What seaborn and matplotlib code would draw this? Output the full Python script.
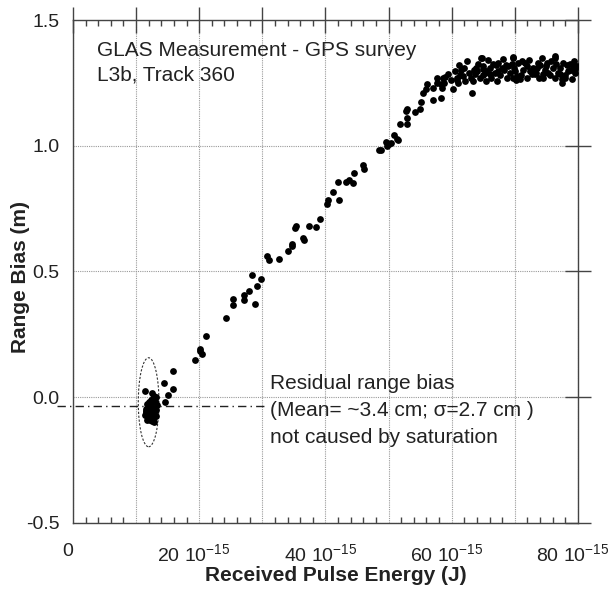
import pandas as pd
import matplotlib
matplotlib.use("Agg")
import matplotlib.pyplot as plt
import matplotlib.transforms as mtransforms
from matplotlib.patches import Ellipse
from matplotlib.ticker import MultipleLocator
import seaborn as sns

# received pulse energy (in 1e-15 J) and range bias (m)
# saturated-free cluster near 12 fJ
cluster_energy = [11.4, 12.5, 12.9, 13.2, 12.7, 12.3, 13.0, 12.1, 11.8, 12.6, 13.3, 12.4, 11.9,
                  12.2, 12.8, 13.1, 11.6, 12.0, 12.5, 12.9, 11.5, 11.9, 12.3, 12.7, 13.2, 11.7,
                  12.1, 12.4, 12.8, 11.4, 11.8, 12.2, 12.6, 11.6, 12.0, 12.9, 13.0]
cluster_bias = [0.025, 0.015, 0.005, 0.0, -0.005, -0.01, -0.015, -0.02, -0.025, -0.02, -0.03,
                -0.035, -0.04, -0.03, -0.045, -0.05, -0.045, -0.05, -0.055, -0.06, -0.06, -0.065,
                -0.07, -0.065, -0.075, -0.075, -0.08, -0.085, -0.08, -0.07, -0.09, -0.09, -0.095,
                -0.055, -0.035, -0.098, -0.02]

# rising part
rise_energy = [14.4, 15.8, 15.8, 15.1, 14.6, 19.3, 20.2, 20.2, 20.4, 21.0, 24.2, 25.4, 25.4, 27.1,
               27.1, 27.9, 28.4, 28.8, 29.1, 29.8, 30.8, 31.0, 32.6, 34.1, 34.65, 34.74, 35.17,
               35.38, 36.48, 36.6, 37.34, 38.5, 39.08, 40.19, 40.4, 41.24, 42.1, 41.93, 43.3,
               43.77, 44.3, 44.56, 45.94, 46.15, 48.52, 48.79, 49.54, 49.79, 50.11, 50.38, 50.8,
               51.44, 51.3, 51.8, 52.86, 52.86, 52.96, 52.75, 54.18, 54.97, 55.08, 55.5, 56.03,
               55.92, 57.08, 57.08, 57.6, 57.6, 58.25, 58.4, 58.25, 58.66, 58.8, 59.46, 58.9,
               60.25, 60.5, 60.8, 61.0, 61.3, 60.9, 62.4, 61.8, 62.1, 63.2, 63.4, 63.7, 64.05]
rise_bias = [0.057, 0.103, 0.033, 0.007, -0.019, 0.150, 0.193, 0.183, 0.173, 0.243, 0.315, 0.365,
             0.389, 0.385, 0.405, 0.423, 0.488, 0.372, 0.444, 0.469, 0.562, 0.544, 0.550, 0.583,
             0.603, 0.610, 0.673, 0.680, 0.634, 0.626, 0.680, 0.676, 0.709, 0.769, 0.786, 0.815,
             0.786, 0.857, 0.857, 0.865, 0.853, 0.892, 0.925, 0.907, 0.984, 0.984, 1.013, 0.999,
             1.007, 1.009, 1.044, 1.024, 1.027, 1.088, 1.110, 1.086, 1.146, 1.139, 1.136, 1.146,
             1.172, 1.211, 1.247, 1.225, 1.231, 1.181, 1.271, 1.251, 1.247, 1.231, 1.189, 1.271,
             1.251, 1.284, 1.274, 1.225, 1.298, 1.27, 1.25, 1.28, 1.262, 1.337, 1.278, 1.258,
             1.211, 1.258, 1.284, 1.298]

# saturation plateau
plateau_energy = [64.7, 64.2, 64.5, 65.3, 65.5, 65.0, 64.74, 65.0, 65.5, 66.06, 66.6, 66.3, 67.4,
                  67.4, 67.1, 67.9, 68.2, 68.7, 68.96, 69.5, 69.75, 70.0, 69.75, 70.3, 70.8, 71.1,
                  71.6, 71.9, 72.4, 72.7, 73.2, 73.5, 73.7, 74.25, 74.5, 74.5, 75.0, 75.3, 75.8,
                  76.4, 76.6, 77.15, 77.15, 77.4, 77.9, 78.5, 78.7, 79.0, 79.3, 79.5, 79.8, 77.4,
                  76.4, 69.75, 59.9, 61.5, 62.7, 63.0, 62.0, 63.9, 64.9, 66.0, 66.8, 67.7, 68.3,
                  68.6, 69.2, 69.9, 70.5, 71.3, 71.0, 72.0, 72.2, 72.9, 73.4, 73.9, 74.8, 75.1,
                  75.6, 76.0, 76.9, 77.6, 78.2, 78.0, 78.9, 79.6, 79.2, 76.3, 74.0, 70.2, 67.0,
                  65.8, 63.6, 61.2]
plateau_bias = [1.350, 1.324, 1.271, 1.291, 1.258, 1.304, 1.350, 1.317, 1.298, 1.284, 1.324,
                1.271, 1.298, 1.331, 1.258, 1.311, 1.344, 1.271, 1.317, 1.324, 1.350, 1.298,
                1.271, 1.278, 1.264, 1.337, 1.331, 1.317, 1.298, 1.284, 1.284, 1.311, 1.331,
                1.350, 1.284, 1.271, 1.317, 1.291, 1.337, 1.350, 1.324, 1.311, 1.284, 1.251,
                1.271, 1.298, 1.324, 1.264, 1.337, 1.304, 1.317, 1.264, 1.357, 1.353, 1.262,
                1.30, 1.29, 1.27, 1.31, 1.31, 1.28, 1.31, 1.29, 1.28, 1.30, 1.32, 1.29, 1.31,
                1.33, 1.30, 1.28, 1.27, 1.34, 1.31, 1.29, 1.27, 1.30, 1.33, 1.28, 1.31, 1.29,
                1.33, 1.32, 1.28, 1.30, 1.29, 1.32, 1.27, 1.32, 1.26, 1.32, 1.34, 1.30, 1.32]

energy = cluster_energy + rise_energy + plateau_energy
bias = cluster_bias + rise_bias + plateau_bias

xtick_vals = [0, 10, 20, 30, 40, 50, 60, 70, 80]
xtick_labels = ["0", "", "20 10$^{-15}$", "", "40 10$^{-15}$", "", "60 10$^{-15}$", "",
                "80 10$^{-15}$"]
ytick_vals = [-0.5, 0.0, 0.5, 1.0, 1.5]
ytick_labels = ["-0.5", "0.0", "0.5", "1.0", "1.5"]

mean_bias = -0.034
ellipse_center = (11.99, -0.02)
ellipse_size = (3.28, 0.354)

df = pd.DataFrame({"energy": energy, "bias": bias})

sns.set_style("white")
plt.rcParams["font.family"] = ["Liberation Sans", "DejaVu Sans"]
plt.rcParams["mathtext.fontset"] = "custom"
plt.rcParams["mathtext.rm"] = "Liberation Sans"
plt.rcParams["mathtext.default"] = "regular"

fig = plt.figure(figsize=(6.13, 5.90), dpi=100)
ax = fig.add_axes([0.119, 0.1136, 0.8238, 0.8525])

sns.scatterplot(data=df, x="energy", y="bias", color="black", s=24, linewidth=0, ax=ax, zorder=3)

ax.set_xlim(0, 80)
ax.set_ylim(-0.5, 1.5)
ax.set_xticks(xtick_vals)
ax.set_xticklabels(xtick_labels)
ax.xaxis.set_minor_locator(MultipleLocator(2))
ax.set_yticks(ytick_vals)
ax.set_yticklabels(ytick_labels)

ax.grid(True, which="major", linestyle=(0, (1, 1)), color="#9a9a9a", linewidth=0.8)
ax.set_axisbelow(True)
for sp in ax.spines.values():
    sp.set_color("#444444")
    sp.set_linewidth(1.0)

ax.tick_params(which="major", direction="inout", length=19, width=1, color="#444444",
               top=True, right=True, labelsize=14, labelcolor="#222222")
ax.tick_params(axis="x", which="major", pad=5)
ax.tick_params(axis="y", which="major", pad=0)
ax.tick_params(axis="x", which="minor", direction="in", length=4.5, width=1, color="#444444",
               top=True, bottom=True)

# x tick labels sit a bit left of their ticks
shift = mtransforms.ScaledTranslation(-0.05, 0, fig.dpi_scale_trans)
for lab in ax.get_xticklabels():
    lab.set_transform(lab.get_transform() + shift)

ax.set_xlabel("Received Pulse Energy (J)", fontsize=15, fontweight="bold", va="top",
              color="#222222")
ax.xaxis.set_label_coords(0.52, -0.086)
ax.set_ylabel("Range Bias (m)", fontsize=15, fontweight="bold", va="center", color="#222222")
ax.yaxis.set_label_coords(-0.103, 0.49)

# mean residual line and ellipse around the unsaturated cluster
ax.plot([-2.5, 30.5], [mean_bias, mean_bias], color="#222222", linewidth=1,
        linestyle=(0, (6, 3, 1, 3)), clip_on=False, zorder=2)
ax.add_patch(Ellipse(ellipse_center, ellipse_size[0], ellipse_size[1], fill=False,
                     edgecolor="#333333", linewidth=0.8, linestyle=(0, (2, 1.5)), zorder=2))

ax.text(3.8, 1.357, "GLAS Measurement - GPS survey", fontsize=15, color="#222222")
ax.text(3.8, 1.258, "L3b, Track 360", fontsize=15, color="#222222")
ax.text(31.2, 0.0345, "Residual range bias", fontsize=15, color="#222222")
ax.text(31.2, -0.0734, "(Mean= ~3.4 cm; σ=2.7 cm )", fontsize=15, color="#222222")
ax.text(31.2, -0.181, "not caused by saturation", fontsize=15, color="#222222")

fig.savefig("out.png", dpi=100)
